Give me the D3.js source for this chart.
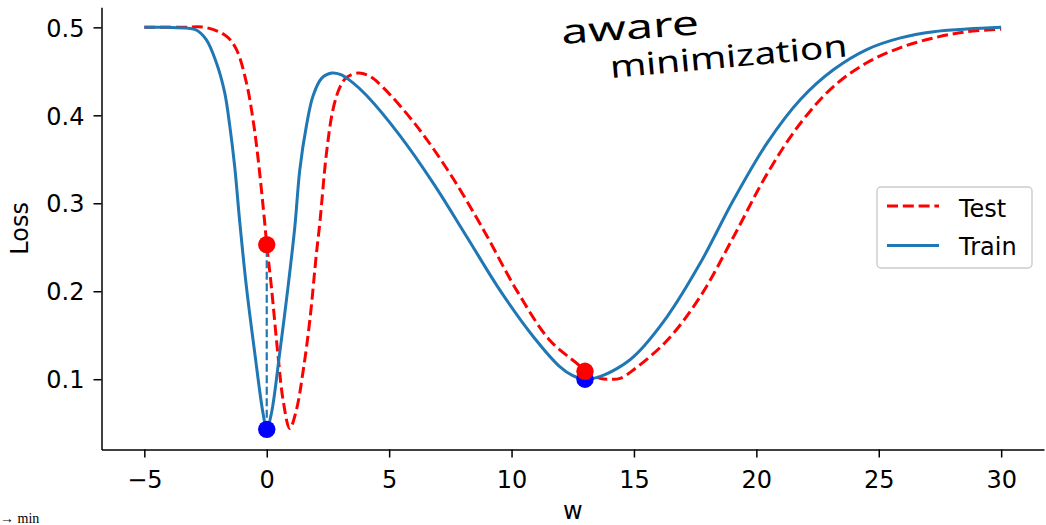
<!DOCTYPE html>
<html>
<head>
<meta charset="utf-8">
<script src="https://cdn.jsdelivr.net/npm/d3@7"></script>
<style>
  html, body { margin: 0; padding: 0; background: #fff; }
  svg { display: block; }
  text { font-family: "DejaVu Sans", sans-serif; }
</style>
</head>
<body>
<svg id="chart" width="1046" height="525"></svg>
<script>
// ---- data ----
const trainW = [-5, -4, -3.2, -2.88, -2.47, -2.06, -1.72, -1.51, -1.31, -1.1, -0.83, -0.49, -0.15, 0, 0.19, 0.53, 0.87, 1.15, 1.35, 1.62, 1.89, 2.24, 2.65, 3.0, 3.5, 4.08, 5.44, 6.8, 8.17, 9.53, 10.9, 11.98, 12.5, 13, 13.6, 14.3, 15.0, 16.35, 17.71, 19.07, 20.45, 21.8, 23.16, 24.53, 25.89, 27.24, 28.6, 30];
const trainLoss = [0.5, 0.5, 0.499, 0.497, 0.486, 0.46, 0.426, 0.388, 0.342, 0.278, 0.205, 0.13, 0.061, 0.043, 0.061, 0.13, 0.205, 0.274, 0.338, 0.388, 0.422, 0.442, 0.448, 0.4465, 0.4375, 0.4225, 0.377, 0.323, 0.262, 0.201, 0.148, 0.114, 0.104, 0.1, 0.103, 0.112, 0.126, 0.171, 0.232, 0.304, 0.369, 0.418, 0.452, 0.475, 0.488, 0.495, 0.498, 0.5];

const testW = [-5, -3.5, -2.47, -1.65, -1.24, -0.83, -0.56, -0.35, -0.08, 0, 0.19, 0.45, 0.67, 0.94, 1.21, 1.49, 1.76, 2.03, 2.17, 2.44, 2.71, 2.99, 3.26, 3.74, 4.2, 4.76, 6.12, 7.48, 8.85, 10.21, 11.57, 12.67, 13.05, 13.62, 14.0, 14.44, 15.0, 16.35, 17.71, 19.07, 20.45, 21.8, 23.16, 24.53, 25.89, 27.25, 28.6, 30];
const testLoss = [0.5, 0.5, 0.4997, 0.49, 0.475, 0.437, 0.395, 0.35, 0.277, 0.253, 0.205, 0.13, 0.076, 0.044, 0.065, 0.11, 0.167, 0.243, 0.278, 0.357, 0.407, 0.432, 0.443, 0.448, 0.4445, 0.4315, 0.388, 0.334, 0.27, 0.201, 0.144, 0.118, 0.109, 0.101, 0.1, 0.101, 0.111, 0.144, 0.194, 0.262, 0.334, 0.391, 0.433, 0.46, 0.477, 0.488, 0.495, 0.498];

const trainPtsW = [0, 13];
const trainPtsLoss = [0.043, 0.1];
const testPtsW = [0, 13];
const testPtsLoss = [0.253, 0.109];

const xTicks = [-5, 0, 5, 10, 15, 20, 25, 30];
const yTicks = [0.1, 0.2, 0.3, 0.4, 0.5];
const seriesNames = ["Test", "Train"];

// ---- drawing ----
const svg = d3.select("#chart");
const x = d3.scaleLinear().domain([-6.75, 31.75]).range([101.5, 1044]);
const y = d3.scaleLinear().domain([0.0201, 0.5229]).range([449.5, 7.2]);

const fmtX = d => (d < 0 ? "\u2212" + Math.abs(d) : String(d));

// axes
const gx = svg.append("g").attr("transform", `translate(0,${y.range()[0]})`)
  .call(d3.axisBottom(x).tickValues(xTicks).tickFormat(fmtX).tickSize(8).tickSizeOuter(0));
const gy = svg.append("g").attr("transform", `translate(${x.range()[0]},0)`)
  .call(d3.axisLeft(y).tickValues(yTicks).tickFormat(d3.format(".1f")).tickSize(8).tickSizeOuter(0));

[gx, gy].forEach(g => {
  g.select(".domain").attr("stroke", "#000").attr("stroke-width", 1.5);
  g.selectAll(".tick line").attr("stroke", "#000").attr("stroke-width", 1.5);
  g.selectAll(".tick text").attr("fill", "#000").style("font-size", "24px")
    .style("font-family", "'DejaVu Sans', sans-serif");
});
gx.selectAll(".tick text").attr("dy", null).attr("y", 38.5);
gy.selectAll(".tick text").attr("dy", null).attr("x", -17).attr("y", 8.7);

// axis labels
svg.append("text").attr("x", (x.range()[0] + x.range()[1]) / 2).attr("y", 519)
  .attr("text-anchor", "middle").style("font-size", "24px").text("w");
svg.append("text").attr("transform", `translate(28,${(y.range()[0] + y.range()[1]) / 2}) rotate(-90)`)
  .attr("text-anchor", "middle").style("font-size", "24px").text("Loss");

// lines
const line = d3.line().x(d => x(d[0])).y(d => y(d[1])).curve(d3.curveCatmullRom.alpha(0.5));
const testData = testW.map((w, i) => [w, testLoss[i]]);
const trainData = trainW.map((w, i) => [w, trainLoss[i]]);

svg.append("path").datum(testData).attr("d", line)
  .attr("fill", "none").attr("stroke", "#ff0000").attr("stroke-width", 3)
  .attr("stroke-dasharray", "11,4.8");
svg.append("path").datum(trainData).attr("d", line)
  .attr("fill", "none").attr("stroke", "#1f77b4").attr("stroke-width", 3);

// vertical gap line at w = 0
svg.append("line")
  .attr("x1", x(trainPtsW[0])).attr("x2", x(testPtsW[0]))
  .attr("y1", y(trainPtsLoss[0])).attr("y2", y(testPtsLoss[0]))
  .attr("stroke", "#1f77b4").attr("stroke-width", 2.2).attr("stroke-dasharray", "8,3.5");

// points
svg.selectAll("circle.train").data(trainPtsW).enter().append("circle")
  .attr("cx", d => x(d)).attr("cy", (d, i) => y(trainPtsLoss[i])).attr("r", 8.7).attr("fill", "#0000ff");
svg.selectAll("circle.test").data(testPtsW).enter().append("circle")
  .attr("cx", d => x(d)).attr("cy", (d, i) => y(testPtsLoss[i])).attr("r", 8.7).attr("fill", "#ff0000");

// legend
const lg = svg.append("g");
lg.append("rect").attr("x", 877).attr("y", 187).attr("width", 155).attr("height", 81)
  .attr("rx", 4).attr("fill", "#fff").attr("fill-opacity", 0.8)
  .attr("stroke", "#cccccc").attr("stroke-width", 1.4);
const legendStyles = [
  { color: "#ff0000", dash: "11,4.8", ly: 206, ty: 217.3 },
  { color: "#1f77b4", dash: null, ly: 245.5, ty: 255 }
];
seriesNames.forEach((name, i) => {
  const s = legendStyles[i];
  lg.append("line").attr("x1", 887).attr("x2", 939).attr("y1", s.ly).attr("y2", s.ly)
    .attr("stroke", s.color).attr("stroke-width", 3).attr("stroke-dasharray", s.dash);
  lg.append("text").attr("x", 959).attr("y", s.ty).style("font-size", "24px").text(name);
});

// handwritten annotation
svg.append("text").attr("transform", "translate(562,44) rotate(-4)")
  .attr("textLength", 138).attr("lengthAdjust", "spacingAndGlyphs")
  .style("font-family", "'Noto Sans', sans-serif").style("font-size", "34px")
  .text("aware");
svg.append("text").attr("transform", "translate(611,78) rotate(-5.2)")
  .attr("textLength", 238).attr("lengthAdjust", "spacingAndGlyphs")
  .style("font-family", "'Noto Sans', sans-serif").style("font-size", "31px")
  .text("minimization");

// clipped caption fragment at the bottom-left
svg.append("text").attr("x", 0).attr("y", 523)
  .style("font-family", "'Liberation Serif', serif").style("font-size", "14px").text("\u2192 min");
</script>
</body>
</html>
